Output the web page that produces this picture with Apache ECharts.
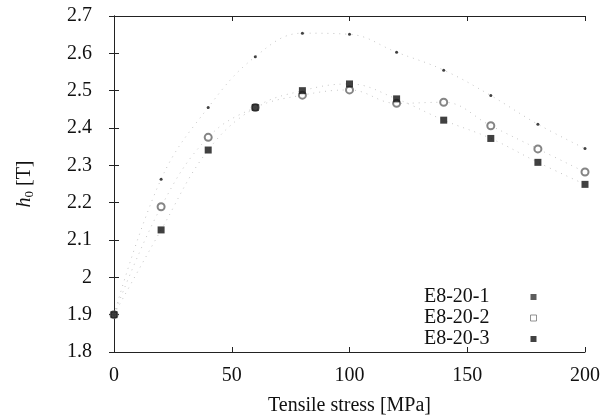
<!DOCTYPE html>
<html><head><meta charset="utf-8">
<script src="https://cdn.jsdelivr.net/npm/echarts@6/dist/echarts.min.js"></script>
<style>html,body{margin:0;padding:0;background:#fff}#c{width:616px;height:420px}</style>
</head><body><div id="c"></div>
<script>
var stress = [0, 20, 40, 60, 80, 100, 120, 140, 160, 180, 200];
var seriesNames = ['E8-20-1', 'E8-20-2', 'E8-20-3'];
var s1 = [1.9, 2.263, 2.455, 2.591, 2.654, 2.651, 2.603, 2.555, 2.487, 2.41, 2.345];
var s2 = [1.9, 2.189, 2.375, 2.455, 2.488, 2.502, 2.466, 2.469, 2.406, 2.344, 2.282];
var s3 = [1.9, 2.127, 2.341, 2.455, 2.50, 2.518, 2.478, 2.421, 2.372, 2.308, 2.249];
var xTicks = [0, 50, 100, 150, 200];
var yTicks = [1.8, 1.9, 2.0, 2.1, 2.2, 2.3, 2.4, 2.5, 2.6, 2.7];

function pairs(arr){ return stress.map(function(x,i){ return [x, arr[i]]; }); }
var font = 'Liberation Serif';
var fs = 20;
var chart = echarts.init(document.getElementById('c'));
var axisCommon = {
  axisLine:{show:true, lineStyle:{color:'#222', width:1}},
  axisTick:{show:true, inside:true, length:5, lineStyle:{color:'#222'}},
  splitLine:{show:false}
};
function fit(arr, name){
  return {type:'line', name: name + ' fit', data: pairs(arr), smooth:0.4, symbol:'none',
    lineStyle:{color:'#c4c4c4', width:1, type:[1,5]}, silent:true, z:1};
}
chart.setOption({
  animation:false,
  textStyle:{fontFamily:font},
  grid:{left:114, right:31, top:16, bottom:68, containLabel:false, outerBoundsMode:'none'},
  legend:{
    data: [
      {name:seriesNames[0], icon:'rect', itemStyle:{color:'#333'}},
      {name:seriesNames[1], icon:'rect', itemStyle:{color:'#fff', borderColor:'#777', borderWidth:1}},
      {name:seriesNames[2], icon:'rect'}
    ],
    orient:'vertical', right:74, top:282, align:'right',
    itemWidth:6, itemHeight:6, itemGap:1,
    textStyle:{fontFamily:font, fontSize:fs, color:'#111', padding:[0,36,0,0]}
  },
  xAxis:[
    Object.assign({type:'value', min:0, max:200, interval:50, position:'bottom',
      name:'Tensile stress [MPa]', nameLocation:'middle', nameGap:44,
      nameTextStyle:{fontFamily:font, fontSize:fs, color:'#111'},
      axisLabel:{fontFamily:font, fontSize:fs, color:'#111', margin:14}}, axisCommon),
    Object.assign({type:'value', min:0, max:200, interval:50, position:'top',
      axisLabel:{show:false}}, axisCommon)
  ],
  yAxis:[
    Object.assign({type:'value', min:1.8, max:2.7, interval:0.1, position:'left',
      name:'{i|h}{s|0} [T]', nameLocation:'middle', nameGap:78, nameRotate:90,
      nameTextStyle:{fontFamily:font, fontSize:fs, color:'#111',
        rich:{i:{fontStyle:'italic', fontFamily:font, fontSize:fs}, s:{fontFamily:font, fontSize:13, verticalAlign:'bottom', padding:[10,0,0,0]}}},
      axisLabel:{fontFamily:font, fontSize:fs, color:'#111', margin:22,
        formatter:function(v){ return String(+v.toFixed(1)); }}}, axisCommon),
    Object.assign({type:'value', min:1.8, max:2.7, interval:0.1, position:'right',
      axisLabel:{show:false}}, axisCommon)
  ],
  series:[
    fit(s1, seriesNames[0]), fit(s2, seriesNames[1]), fit(s3, seriesNames[2]),
    {type:'scatter', name:seriesNames[0], data:pairs(s1), symbol:'circle', symbolSize:3,
      itemStyle:{color:'#111'}, z:3},
    {type:'scatter', name:seriesNames[1], data:pairs(s2), symbol:'emptyCircle', symbolSize:7,
      itemStyle:{color:'#666', borderWidth:1}, z:3},
    {type:'scatter', name:seriesNames[2], data:pairs(s3), symbol:'rect', symbolSize:7,
      itemStyle:{color:'#111'}, z:4}
  ]
});
</script></body></html>
